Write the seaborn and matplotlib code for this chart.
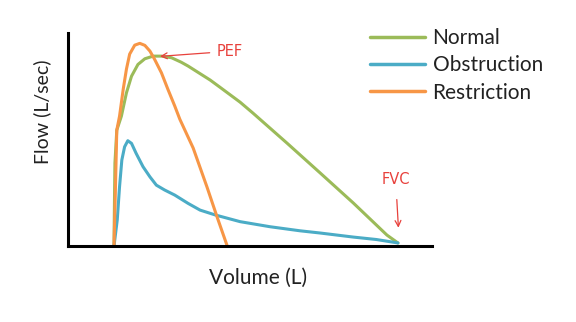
import matplotlib
matplotlib.use("Agg")
import matplotlib.pyplot as plt
import seaborn as sns
import pandas as pd

# Traced flow-volume curves (Volume in L, Flow in L/sec)
normal_vol = [1.00, 1.01, 1.02, 1.06, 1.16, 1.27, 1.38, 1.52, 1.67, 1.85, 2.03, 2.25, 2.46, 2.61,
              3.09, 3.30, 3.74, 4.02, 4.76, 5.48, 6.20, 6.93, 7.17]
normal_flow = [0.00, 2.27, 4.09, 5.71, 6.40, 7.55, 8.37, 8.95, 9.23, 9.36, 9.36, 9.28, 9.06, 8.87,
               8.18, 7.83, 7.09, 6.55, 5.07, 3.60, 2.12, 0.54, 0.15]

obstr_vol = [1.00, 1.07, 1.12, 1.17, 1.23, 1.30, 1.38, 1.48, 1.63, 1.78, 1.92, 2.10, 2.32, 2.61,
             2.87, 3.20, 3.74, 4.39, 5.04, 5.48, 6.20, 6.70, 7.17]
obstr_flow = [0.00, 1.28, 2.92, 4.24, 4.89, 5.19, 5.06, 4.57, 3.91, 3.41, 3.00, 2.76, 2.51, 2.10,
              1.77, 1.53, 1.20, 0.95, 0.75, 0.64, 0.44, 0.32, 0.15]

restr_vol = [1.00, 1.03, 1.06, 1.12, 1.20, 1.27, 1.34, 1.45, 1.56, 1.67, 1.78, 1.88, 2.03, 2.17,
             2.32, 2.43, 2.72, 3.02, 3.24, 3.46]
restr_flow = [0.00, 2.76, 5.71, 6.40, 7.73, 8.72, 9.46, 9.90, 9.99, 9.89, 9.61, 9.21, 8.54, 7.73,
              6.90, 6.25, 4.83, 2.91, 1.43, 0.00]

series_names = ["Normal", "Obstruction", "Restriction"]
series_colors = ["#9bbb59", "#4bacc6", "#f79646"]

frames = []
for name, v, f in [("Normal", normal_vol, normal_flow),
                   ("Obstruction", obstr_vol, obstr_flow),
                   ("Restriction", restr_vol, restr_flow)]:
    d = pd.DataFrame({"Volume": v, "Flow": f})
    d["Pattern"] = name
    frames.append(d)
df = pd.concat(frames, ignore_index=True)

sns.set_theme(style="white")
plt.rcParams["font.family"] = ["Lato", "DejaVu Sans"]

fig = plt.figure(figsize=(5.76, 3.22), dpi=100)
ax = fig.add_axes([68 / 576, 1 - 246 / 322, (432 - 68) / 576, (246 - 33) / 322])

sns.lineplot(data=df, x="Volume", y="Flow", hue="Pattern", hue_order=series_names,
             palette=series_colors, sort=False, estimator=None, linewidth=2.2,
             ax=ax, legend=True)
for ln in ax.get_lines():
    ln.set_solid_joinstyle("round")
    ln.set_solid_capstyle("round")

ax.set_xlim(0, 7.91)
ax.set_ylim(0, 10.5)
ax.set_xticks([])
ax.set_yticks([])
for s in ["top", "right"]:
    ax.spines[s].set_visible(False)
for s in ["left", "bottom"]:
    ax.spines[s].set_color("black")
    ax.spines[s].set_linewidth(2.2)

ax.set_xlabel("Volume (L)", fontsize=15, color="#222222", labelpad=16)
ax.xaxis.set_label_coords((258 - 68) / 364, -(278 - 246) / 213)
ax.set_ylabel("Flow (L/sec)", fontsize=14, color="#222222")
ax.yaxis.set_label_coords(-(68 - 42) / 364, (246 - 112) / 213)
ax.xaxis.label.set_va("center")
ax.yaxis.label.set_va("center")

leg = ax.legend(loc="upper left", bbox_to_anchor=(370 / 576, 1 - 28 / 322),
                bbox_transform=fig.transFigure, frameon=False, fontsize=15,
                handlelength=2.65, handletextpad=0.35, labelspacing=0.35, borderpad=0,
                borderaxespad=0)
for line in leg.get_lines():
    line.set_linewidth(2.5)
for t in leg.get_texts():
    t.set_color("#222222")

red = "#e8413c"
ax.annotate("PEF", xy=(2.00, 9.35), xytext=(3.24, 9.6), color=red, fontsize=10.5,
            va="center", ha="left", family=["DejaVu Sans"],
            arrowprops=dict(arrowstyle="->", color=red, lw=0.9, shrinkA=3, shrinkB=0))
ax.annotate("FVC", xy=(7.18, 0.9), xytext=(7.12, 3.30), color=red, fontsize=10.5,
            va="center", ha="center", family=["DejaVu Sans"],
            arrowprops=dict(arrowstyle="->", color=red, lw=0.9, shrinkA=7, shrinkB=0))

fig.savefig("out.png", dpi=100)
